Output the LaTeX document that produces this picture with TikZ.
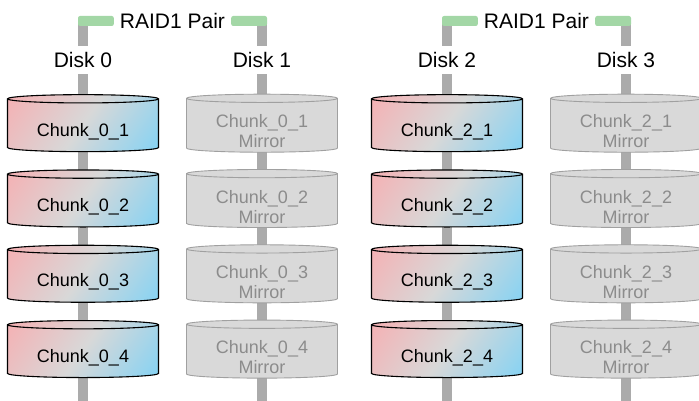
\documentclass[tikz,border=0pt]{standalone}
\usepackage{fontspec}
\setmainfont{Liberation Sans}
\usetikzlibrary{shapes.geometric,positioning,calc}

\definecolor{linegray}{HTML}{ABABAB}
\definecolor{pairgreen}{HTML}{A3D7A6}
\definecolor{chunkred}{HTML}{F8ADB0}
\definecolor{chunkmid}{HTML}{D8D8D8}
\definecolor{chunkblue}{HTML}{7DD2F6}
\definecolor{mirrorfill}{HTML}{D9D9D9}
\definecolor{mirrordraw}{HTML}{A0A0A0}
\definecolor{mirrortext}{HTML}{8C8C8C}

\pgfdeclarehorizontalshading{chunkshade}{100bp}{color(0bp)=(chunkred); color(12bp)=(chunkred); color(50bp)=(chunkmid); color(88bp)=(chunkblue); color(100bp)=(chunkblue)}

\newcommand{\drumstrut}{\rule{0pt}{25pt}}

\tikzset{
  diskline/.style={linegray, line width=10pt},
  pairbar/.style={pairgreen, rounded corners=2pt},
  disklabel/.style={fill=white, inner sep=2pt, minimum height=28pt, font=\fontsize{21}{24}\selectfont},
  pairlabel/.style={inner sep=6pt, font=\fontsize{21}{24}\selectfont},
  drum/.style={cylinder, shape border rotate=90, aspect=0.09, minimum width=151pt, minimum height=57pt, inner sep=0pt,
    font=\fontsize{18}{20}\selectfont},
  chunkbox/.style={drum, draw=black, line width=1.1pt, shading=chunkshade, shading angle=-35},
  mirrorbox/.style={drum, draw=mirrordraw, line width=0.9pt, fill=mirrorfill, text=mirrortext, align=center}
}

\begin{document}
\begin{tikzpicture}[x=1pt,y=-1pt]
    \useasboundingbox (0,0) rectangle (699,401);

    % Disk lines and labels
    \foreach \d/\x in {0/83,1/262,2/447,3/626}{
        \coordinate (t\d) at (\x,21);
        \coordinate (b\d) at (\x,401);
        \draw[diskline] (t\d) -- (b\d);
        \node[disklabel] (disk\d) at (\x,60) {Disk \d};
    }

    % Chunks and mirrors
    \foreach \r in {1,...,4}{
        \foreach \p/\x/\m in {0/83/262,2/447/626}{
            \node[chunkbox] (c\p\r) at (\x,{125.5+75.3*(\r-1)}) {\drumstrut Chunk\_\p\_\r};
            \node[mirrorbox] (m\p\r) at (\m,{125.5+75.3*(\r-1)}) {\drumstrut Chunk\_\p\_\r\\Mirror};
        }
    }

    % RAID1 pairs
    \node[pairlabel] (pair01) at ($(t0)!0.5!(t1)$) {RAID1 Pair};
    \fill[pairbar] ($(t0)+(-5,-5)$) rectangle ($(pair01.west)+(0,5)$);
    \fill[pairbar] ($(pair01.east)+(0,-5)$) rectangle ($(t1)+(5,5)$);

    \node[pairlabel] (pair23) at ($(t2)!0.5!(t3)$) {RAID1 Pair};
    \fill[pairbar] ($(t2)+(-5,-5)$) rectangle ($(pair23.west)+(0,5)$);
    \fill[pairbar] ($(pair23.east)+(0,-5)$) rectangle ($(t3)+(5,5)$);
\end{tikzpicture}
\end{document}
